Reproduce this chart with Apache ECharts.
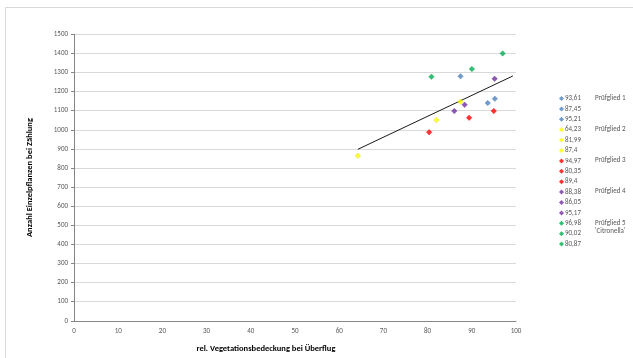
<!DOCTYPE html>
<html>
<head>
<meta charset="utf-8">
<script src="https://cdn.jsdelivr.net/npm/echarts@6/dist/echarts.min.js"></script>
<style>html,body{margin:0;padding:0;background:#fff;}#c{width:633px;height:358px;}</style>
</head>
<body>
<div id="c"></div>
<script>
// Data
const groupNames = ['Prüfglied 1', 'Prüfglied 2', 'Prüfglied 3', 'Prüfglied 4', "Prüfglied 5\n'Citronella'"];
const groupColors = ['#4F81BD', '#FFFF00', '#FF0000', '#7030A0', '#00B050'];
const xValues = [
  [93.61, 87.45, 95.21],
  [64.23, 81.99, 87.4],
  [94.97, 80.35, 89.4],
  [88.38, 86.05, 95.17],
  [96.98, 90.02, 80.87]
];
const yValues = [
  [1140, 1280, 1163],
  [864, 1051, 1147],
  [1098, 987, 1063],
  [1131, 1098, 1267],
  [1400, 1318, 1278]
];
const trendX = [64.23, 99.3];
const trendY = [898, 1282];
const xTitle = 'rel. Vegetationsbedeckung bei Überflug';
const yTitle = 'Anzahl Einzelpflanzen bei Zählung';

const FONT = 'Carlito, Calibri, Lato, sans-serif';
const fmt = v => String(v).replace('.', ',');

const series = [];
const legendData = [];
xValues.forEach((xs, g) => {
  xs.forEach((x, i) => {
    const name = fmt(x);
    legendData.push(name);
    series.push({
      type: 'scatter',
      name: name,
      symbol: 'diamond',
      symbolSize: 5.5,
      itemStyle: { color: groupColors[g], borderColor: g === 1 ? '#D4D400' : groupColors[g], borderWidth: 0.5 },
      data: [[x, yValues[g][i]]],
      z: 3
    });
  });
});
series.push({
  type: 'line',
  name: 'Trend',
  data: trendX.map((x, i) => [x, trendY[i]]),
  symbol: 'none',
  lineStyle: { color: '#1a1a1a', width: 1 },
  silent: true,
  z: 2
});

const chart = echarts.init(document.getElementById('c'));
chart.setOption({
  animation: false,
  backgroundColor: '#fff',
  textStyle: { fontFamily: FONT },
  grid: { left: 74, right: 117, top: 34.3, bottom: 37.2, containLabel: false, outerBoundsMode: 'none' },
  xAxis: {
    type: 'value', min: 0, max: 100, interval: 10,
    name: xTitle, nameLocation: 'middle', nameGap: 24,
    nameTextStyle: { fontFamily: FONT, fontSize: 8.5, fontWeight: 'bold', color: '#000', padding: [0, 58, 0, 0] },
    axisLine: { show: true, lineStyle: { color: '#868686', width: 1 } },
    axisTick: { show: false },
    splitLine: { show: false },
    axisLabel: { fontFamily: FONT, fontSize: 7, color: '#595959', margin: 7 }
  },
  yAxis: {
    type: 'value', min: 0, max: 1500, interval: 100,
    name: yTitle, nameLocation: 'middle', nameGap: 40, nameRotate: 90,
    nameTextStyle: { fontFamily: FONT, fontSize: 8.5, fontWeight: 'bold', color: '#000' },
    axisLine: { show: true, lineStyle: { color: '#868686', width: 1 } },
    axisTick: { show: true, inside: false, length: 3, lineStyle: { color: '#868686' } },
    splitLine: { show: true, lineStyle: { color: '#D9D9D9', width: 1 } },
    axisLabel: { fontFamily: FONT, fontSize: 7, color: '#595959', margin: 6, formatter: v => String(v) }
  },
  legend: {
    data: legendData,
    orient: 'vertical',
    left: 554, top: 89,
    itemWidth: 5, itemHeight: 5, itemGap: 1.4,
    icon: 'diamond',
    itemStyle: { borderWidth: 0 },
    textStyle: { fontFamily: FONT, fontSize: 7, color: '#595959', lineHeight: 9, padding: [0, 0, 0, -4] },
    selectedMode: false
  },
  graphic: [
    { type: 'rect', left: 3, top: 5, shape: { x: 0, y: 0, width: 640, height: 351 }, style: { fill: 'none', stroke: '#D9D9D9', lineWidth: 1 }, silent: true, z: -1 },
    { type: 'text', left: 595, top: 95, style: { text: groupNames[0], font: '7px ' + FONT, fill: '#595959' } },
    { type: 'text', left: 595, top: 126, style: { text: groupNames[1], font: '7px ' + FONT, fill: '#595959' } },
    { type: 'text', left: 595, top: 157, style: { text: groupNames[2], font: '7px ' + FONT, fill: '#595959' } },
    { type: 'text', left: 595, top: 188, style: { text: groupNames[3], font: '7px ' + FONT, fill: '#595959' } },
    { type: 'text', left: 595, top: 219, style: { text: groupNames[4], font: '7px ' + FONT, fill: '#595959', lineHeight: 8 } }
  ],
  series: series
});
</script>
</body>
</html>
